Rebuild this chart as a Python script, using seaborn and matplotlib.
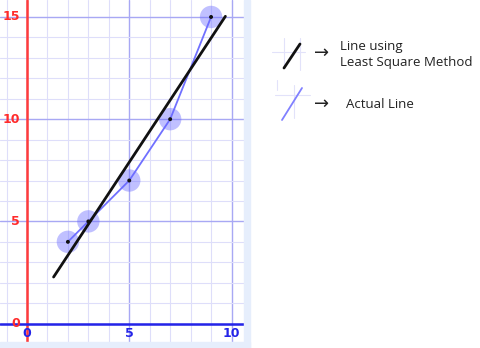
import numpy as np
import pandas as pd
import matplotlib
matplotlib.use("Agg")
import matplotlib.pyplot as plt
from matplotlib.lines import Line2D
from matplotlib.patches import Rectangle
import seaborn as sns

# data
x_vals = [2, 3, 5, 7, 9]
y_vals = [4, 5, 7, 10, 15]
fit_x_range = [1.3, 9.7]
x_ticks = [0, 5, 10]
y_ticks = [0, 5, 10, 15]
legend_labels = ["Line using\nLeast Square Method", "Actual Line"]

sns.set_style("white")
plt.rcParams['font.family'] = ['DejaVu Sans']

df = pd.DataFrame({"x": x_vals, "y": y_vals})
slope, intercept = np.polyfit(df["x"], df["y"], 1)
fit_df = pd.DataFrame({"x": fit_x_range})
fit_df["y"] = slope * fit_df["x"] + intercept

W, H = 480, 348
fig = plt.figure(figsize=(W / 100, H / 100), dpi=100)
ax = fig.add_axes([0, 6 / H, 244 / W, 342 / H])

ax.set_xlim(-1.32, 10.61)
ax.set_ylim(-0.9, 15.83)

# grid
for v in np.arange(-1, 11):
    major = v % 5 == 0
    ax.axvline(v, color="#a8a8f4" if major else "#dedefa",
               lw=1.0 if major else 0.8, zorder=0)
for v in np.arange(0, 16):
    major = v % 5 == 0
    ax.axhline(v, color="#a8a8f4" if major else "#dedefa",
               lw=1.0 if major else 0.8, zorder=0)

ax.axvline(0, color="#ff3b3b", lw=1.8, zorder=1)
ax.axhline(0, color="#2424e8", lw=1.8, zorder=1)

# actual line + points
sns.lineplot(data=df, x="x", y="y", ax=ax, color="#7070ff", lw=1.3, zorder=3)
sns.scatterplot(data=df, x="x", y="y", ax=ax, s=260, color="#6a6aff", alpha=0.42,
                edgecolor="none", zorder=4)
sns.scatterplot(data=df, x="x", y="y", ax=ax, s=8, color="#111111",
                edgecolor="none", zorder=6)
# least squares line
sns.lineplot(data=fit_df, x="x", y="y", ax=ax, color="#111111", lw=2.0, zorder=5)

ax.set_xlabel("")
ax.set_ylabel("")
ax.set_xticks([])
ax.set_yticks([])
for s in ax.spines.values():
    s.set_visible(False)

for t in y_ticks:
    ax.text(-0.35, t, str(t), color="#ff2b2b", fontsize=9, fontweight="bold",
            ha="right", va="center", zorder=7)
for t in x_ticks:
    ax.text(t, -0.15, str(t), color="#2424e8", fontsize=9, fontweight="bold",
            ha="center", va="top", zorder=7)

# pale border strips
fig.patches.append(Rectangle((244 / W, 0), 6 / W, 1, transform=fig.transFigure,
                             color="#e6eefc", zorder=0))
fig.patches.append(Rectangle((0, 0), 250 / W, 6 / H, transform=fig.transFigure,
                             color="#e6eefc", zorder=0))

# legend-like annotation
def fx(px):
    return px / W

def fy(py):
    return 1 - py / H

# faint grid behind icons
for (x0, y0, x1, y1) in [(272, 52, 305, 52), (284, 38, 284, 68), (300, 38, 300, 70),
                         (275, 95, 310, 95), (294, 85, 294, 118), (277, 80, 277, 90)]:
    fig.add_artist(Line2D([fx(x0), fx(x1)], [fy(y0), fy(y1)], color="#e2e2fa", lw=0.8))

fig.add_artist(Line2D([fx(284), fx(300)], [fy(68), fy(44)], color="#111111", lw=2.0))
fig.add_artist(Line2D([fx(282), fx(302)], [fy(120), fy(88)], color="#8080ff", lw=1.3))

fig.text(fx(314), fy(53), "→", fontsize=13, color="#222222", va="center", ha="left")
fig.text(fx(314), fy(104), "→", fontsize=13, color="#222222", va="center", ha="left")
fig.text(fx(340), fy(54.5), legend_labels[0], fontsize=9.5, color="#222222",
         va="center", ha="left", family="Open Sans", linespacing=1.25)
fig.text(fx(346), fy(105), legend_labels[1], fontsize=9.5, color="#222222",
         va="center", ha="left", family="Open Sans")

fig.savefig("out.png", dpi=100)
